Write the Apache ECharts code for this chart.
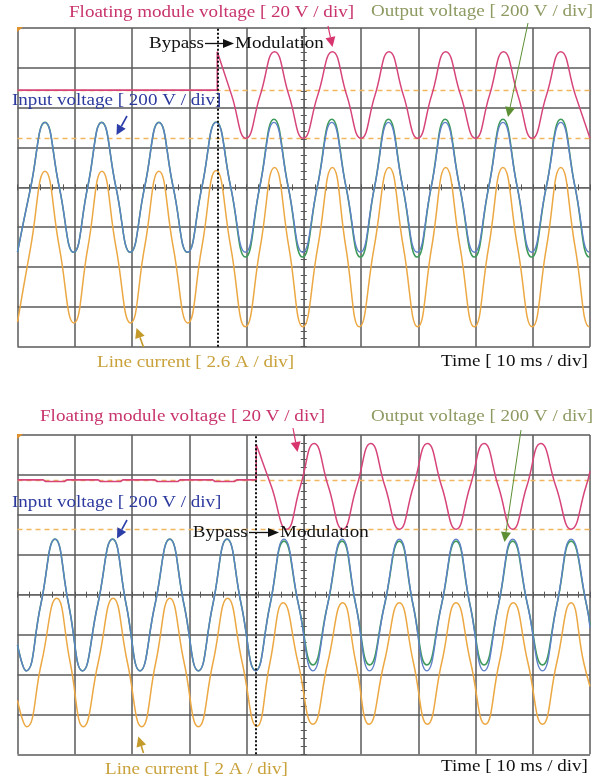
<!DOCTYPE html>
<html><head><meta charset="utf-8">
<script src="https://cdn.jsdelivr.net/npm/echarts@6.0.0/dist/echarts.min.js"></script>
<style>html,body{margin:0;padding:0;background:#fff}#c{width:612px;height:784px}</style>
</head><body><div id="c"></div>
<script>
// ---------- DATA (time in ms, voltage in V, current in A) ----------
// Top record (line current 2.6 A/div)
const topBypass = 34.9;
const topCursorsV = [0, 24.2];
const topInput = [[0,-325],[2.3,0],[4.8,326],[7.3,0],[9.8,-326],[12.25,0],[14.7,326],[17.2,0],[19.7,-326],[22.2,0],[24.7,326],[27.2,0],[29.7,-326],[32.2,0],[34.7,326],[37.25,0],[39.8,-326],[42.3,0],[44.8,326],[47.3,0],[49.8,-326],[52.35,0],[54.9,326],[57.4,0],[59.9,-326],[62.35,0],[64.8,326],[67.3,0],[69.8,-326],[72.25,0],[74.7,326],[77.25,0],[79.8,-326],[82.3,0],[84.8,326],[87.3,0],[89.8,-326],[92.35,0],[94.9,326],[97.4,0],[99.9,-326],[100,-326]];
const topOutput = [[0,-325],[2.3,0],[4.8,326],[7.3,0],[9.8,-326],[12.25,0],[14.7,326],[17.2,0],[19.7,-326],[22.2,0],[24.7,326],[27.2,0],[29.7,-326],[32.2,0],[34.7,328],[37.25,0],[39.8,-350],[42.3,0],[44.8,342],[47.3,0],[49.8,-350],[52.35,0],[54.9,342],[57.4,0],[59.9,-350],[62.35,0],[64.8,342],[67.3,0],[69.8,-350],[72.25,0],[74.7,342],[77.25,0],[79.8,-350],[82.3,0],[84.8,342],[87.3,0],[89.8,-350],[92.35,0],[94.9,342],[97.4,0],[99.9,-350],[100,-350]];
const topCurrent = [[0,-4.9],[2.3,0],[4.8,4.95],[7.3,0],[9.85,-4.95],[12.3,0],[14.75,4.95],[17.2,0],[19.75,-4.95],[22.2,0],[24.7,4.95],[27.2,0],[29.75,-4.95],[32.2,0],[34.7,5.0],[37.25,0],[39.8,-5.2],[42.4,0],[44.9,5.2],[47.4,0],[49.85,-5.2],[52.45,0],[55,5.2],[57.35,0],[59.7,-5.2],[62.3,0],[64.9,5.2],[67.4,0],[69.9,-5.2],[72.35,0],[74.8,5.2],[77.3,0],[79.8,-5.2],[82.3,0],[84.8,5.2],[87.35,0],[89.9,-5.2],[92.4,0],[94.9,5.2],[97.4,0],[99.9,-5.2],[100,-5.2]];
const topFloatBypass = [[0,24.2],[34.9,24.2],[34.9,43.5]];
const topFloatMod = [[34.9,43.5],[37.4,21.7],[39.9,0],[42.4,21.7],[44.9,43.5],[47.4,21.7],[49.9,0],[52.45,21.7],[55,43.5],[57.5,21.7],[60,0],[62.45,21.7],[64.9,43.5],[67.4,21.7],[69.9,0],[72.35,21.7],[74.8,43.5],[77.4,21.7],[80,0],[82.45,21.7],[84.9,43.5],[87.4,21.7],[89.9,0],[92.4,21.7],[94.9,43.5],[97.45,21.7],[100,0]];

// Bottom record (line current 2 A/div)
const botBypass = 41.7;
const botCursorsV = [0, 24.7];
const botInput = [[0,-200],[1.5,-330],[4.05,0],[6.55,330],[8.95,0],[11.35,-330],[14,0],[16.6,330],[19,0],[21.4,-330],[24,0],[26.6,330],[29.1,0],[31.6,-330],[34.1,0],[36.6,330],[39.1,0],[41.6,-330],[44.1,0],[46.55,330],[49.1,0],[51.6,-330],[54.15,0],[56.7,330],[59.1,0],[61.5,-330],[64.1,0],[66.7,330],[69.1,0],[71.5,-330],[74.05,0],[76.6,330],[79.05,0],[81.5,-330],[84,0],[86.5,330],[89.1,0],[91.7,-330],[94.2,0],[96.7,330],[99.4,0],[100,-115]];
const botOutput = [[0,-200],[1.5,-330],[4.05,0],[6.55,330],[8.95,0],[11.35,-330],[14,0],[16.6,330],[19,0],[21.4,-330],[24,0],[26.6,330],[29.1,0],[31.6,-330],[34.1,0],[36.6,330],[39.1,0],[41.6,-328],[44.1,0],[46.55,320],[49.1,0],[51.6,-300],[54.15,0],[56.7,320],[59.1,0],[61.5,-300],[64.1,0],[66.7,320],[69.1,0],[71.5,-300],[74.05,0],[76.6,320],[79.05,0],[81.5,-300],[84,0],[86.5,320],[89.1,0],[91.7,-300],[94.2,0],[96.7,320],[99.4,0],[100,-100]];
const botCurrent = [[0,-1.9],[1.6,-3.22],[4.2,0],[6.85,3.22],[9.2,0],[11.5,-3.22],[14.1,0],[16.7,3.22],[19.2,0],[21.7,-3.22],[24.15,0],[26.6,3.22],[29.1,0],[31.6,-3.22],[34.15,0],[36.7,3.22],[39.25,0],[41.8,-3.2],[44.1,0],[46.4,3.0],[49,0],[51.6,-3.1],[54.2,0],[56.8,3.0],[59.1,0],[61.4,-3.1],[64.05,0],[66.7,3.0],[69.15,0],[71.6,-3.1],[74.1,0],[76.6,3.0],[79.15,0],[81.7,-3.1],[84.15,0],[86.6,3.0],[89.15,0],[91.7,-3.1],[94.2,0],[96.7,3.0],[98.9,0],[100,-1.2]];
const botFloatBypass = [[0,24.7],[4.5,24.7],[4.9,23.9],[8.2,23.9],[8.6,24.7],[14.1,24.7],[14.5,23.9],[18,23.9],[18.4,24.7],[24,24.7],[24.4,23.9],[28,23.9],[28.4,24.7],[34.1,24.7],[34.5,23.9],[37.9,23.9],[38.3,24.7],[41.7,24.7],[41.7,42.5]];
const botFloatMod = [[41.7,42.5],[44.35,21.4],[47,0],[49.4,21.4],[51.8,42.9],[54.3,21.4],[56.8,0],[59.25,21.4],[61.7,42.9],[64.2,21.4],[66.7,0],[69.15,21.4],[71.6,42.9],[74.1,21.4],[76.6,0],[79.05,21.4],[81.5,42.9],[84,21.4],[86.5,0],[88.95,21.4],[91.4,42.9],[94.05,21.4],[96.7,0],[99.3,21.4],[100,29]];

// ---------- SETTINGS (scope channel scale per div and offset in div) ----------
const panels = [
  {grid:{left:17.5, top:28, width:572.5, height:318.7},
   volt:{scale:200, off:0}, cur:{scale:2.6, off:-1.5}, flt:{scale:20, off:1.23},
   input:topInput, output:topOutput, current:topCurrent, fltA:topFloatBypass, fltB:topFloatMod,
   bypass:topBypass, cursors:topCursorsV},
  {grid:{left:17.5, top:435, width:572.5, height:319.3},
   volt:{scale:200, off:-0.26}, cur:{scale:2, off:-1.7}, flt:{scale:20, off:1.64},
   input:botInput, output:botOutput, current:botCurrent, fltA:botFloatBypass, fltB:botFloatMod,
   bypass:botBypass, cursors:botCursorsV}
];

const C = {pink:'#d6447a', blue:'#5d80c8', green:'#3f9b5c', orange:'#eca843', cursor:'#f2b65e', grid:'#5a5a5a'};

const grids=[], xAxis=[], yAxis=[], series=[];
panels.forEach((P,p)=>{
  grids.push(Object.assign({show:false}, P.grid));
  const tick = {color:'#555', width:1};
  xAxis.push({gridIndex:p, type:'value', min:-5, max:5, interval:1, position:'bottom',
    axisLabel:{show:false},
    axisLine:{show:true, onZero:true, onZeroAxisIndex:5*p, lineStyle:{color:'#666', width:1}},
    axisTick:{show:true, inside:true, length:3, lineStyle:tick},
    minorTick:{show:true, splitNumber:5, length:3, lineStyle:tick},
    splitLine:{show:true, lineStyle:{color:C.grid, width:1.5}}});
  xAxis.push({gridIndex:p, type:'value', min:0, max:100, interval:10, position:'top',
    axisLabel:{show:false},
    axisLine:{show:true, onZero:true, onZeroAxisIndex:5*p, lineStyle:{color:'#666', width:1}},
    axisTick:{show:true, inside:true, length:3, lineStyle:tick},
    minorTick:{show:true, splitNumber:5, length:3, lineStyle:tick},
    splitLine:{show:false}});
  yAxis.push({gridIndex:p, type:'value', min:-4, max:4, interval:1, position:'left',
    axisLabel:{show:false},
    axisLine:{show:true, onZero:true, onZeroAxisIndex:2*p, lineStyle:{color:'#666', width:1}},
    axisTick:{show:true, inside:true, length:3, lineStyle:tick},
    minorTick:{show:true, splitNumber:5, length:3, lineStyle:tick},
    splitLine:{show:true, lineStyle:{color:C.grid, width:1.5}}});
  yAxis.push({gridIndex:p, type:'value', min:-4, max:4, interval:1, position:'right',
    axisLabel:{show:false},
    axisLine:{show:true, onZero:true, onZeroAxisIndex:2*p, lineStyle:{color:'#666', width:1}},
    axisTick:{show:true, inside:true, length:3, lineStyle:tick},
    minorTick:{show:true, splitNumber:5, length:3, lineStyle:tick},
    splitLine:{show:false}});
  [P.volt, P.cur, P.flt].forEach(ch=>{
    yAxis.push({gridIndex:p, type:'value', show:false, min:(-4-ch.off)*ch.scale, max:(4-ch.off)*ch.scale, splitLine:{show:false}});
  });
  const xT = 2*p+1, yV = 5*p+2, yC = 5*p+3, yF = 5*p+4;
  const base = {type:'line', xAxisIndex:xT, symbol:'none', silent:true, smooth:0.5};
  series.push(Object.assign({}, base, {yAxisIndex:yC, data:P.current, lineStyle:{color:C.orange, width:1.5}}));
  series.push(Object.assign({}, base, {yAxisIndex:yV, data:P.output, lineStyle:{color:C.green, width:1.6}}));
  series.push(Object.assign({}, base, {yAxisIndex:yV, data:P.input, lineStyle:{color:C.blue, width:1.4},
    markLine:{silent:true, symbol:['none','none'], label:{show:false},
      lineStyle:{color:'#111', type:[2,2], width:2}, data:[{xAxis:P.bypass}]}}));
  series.push(Object.assign({}, base, {yAxisIndex:yF, data:P.fltA, smooth:false, lineStyle:{color:C.pink, width:1.6},
    markLine:{silent:true, z:1, symbol:['none','none'], label:{show:false},
      lineStyle:{color:C.cursor, type:[5,4], width:1.3}, data:P.cursors.map(v=>({yAxis:v}))}}));
  series.push(Object.assign({}, base, {yAxisIndex:yF, data:P.fltB, lineStyle:{color:C.pink, width:1.5}}));
});

// ---------- annotations ----------
const FONT = '"Liberation Serif", "Times New Roman", serif';
function label(text, x, y, color){
  return {type:'text', x:x, y:y, scaleX:1.12, z:20,
    style:{text:text, fill:color, fontSize:17, fontFamily:FONT, align:'left', verticalAlign:'middle'}};
}
function arrow(x1,y1,x2,y2,color,len,hw,lw){
  const a=Math.atan2(y2-y1,x2-x1);
  const bx=x2-len*Math.cos(a), by=y2-len*Math.sin(a);
  const px=-Math.sin(a)*hw, py=Math.cos(a)*hw;
  return [
    {type:'line', z:20, shape:{x1:x1,y1:y1,x2:bx,y2:by}, style:{stroke:color, lineWidth:lw}},
    {type:'polygon', z:20, shape:{points:[[x2,y2],[bx+px,by+py],[bx-px,by-py]]}, style:{fill:color}}
  ];
}
const TXT = {pink:'#c8346c', olive:'#8d9a62', blue:'#2c3a9e', gold:'#c9a23c', black:'#111'};
const graphic = [].concat(
  // top
  [label('Floating module voltage [ 20 V / div]', 69, 12.8, TXT.pink),
   label('Output voltage [ 200 V / div]', 371, 12, TXT.olive),
   label('Bypass', 149, 43.8, TXT.black),
   label('Modulation', 235, 43.8, TXT.black),
   label('Input voltage [ 200 V / div]', 12, 100.5, TXT.blue),
   label('Line current [ 2.6 A / div]', 97, 362.2, TXT.gold),
   label('Time [ 10 ms / div]', 441, 362, TXT.black)],
  arrow(205,43.5,234,43.5,'#111',11,4.5,1.3),
  arrow(328,26,332.5,47,'#d8356f',10,5,1.2),
  arrow(528,23,508,117,'#5d8f34',10,5,1),
  arrow(127,116,116.5,135,'#2c3fa8',10,5,1.6),
  arrow(143.5,347,136.5,328,'#c49a2a',10,5,1.6),
  // bottom
  [label('Floating module voltage [ 20 V / div]', 40, 417, TXT.pink),
   label('Output voltage [ 200 V / div]', 371, 416.2, TXT.olive),
   label('Input voltage [ 200 V / div]', 12, 502.8, TXT.blue),
   label('Bypass', 192.7, 532.5, TXT.black),
   label('Modulation', 280, 532.5, TXT.black),
   label('Line current [ 2 A / div]', 105, 769.5, TXT.gold),
   label('Time [ 10 ms / div]', 441, 767, TXT.black)],
  arrow(249,532.5,279,532.5,'#111',11,4.5,1.3),
  arrow(293,428,297.5,452,'#d8356f',10,5,1.2),
  arrow(521,430,504.5,542,'#5d8f34',10,5,1),
  arrow(127,520,117,538.5,'#2c3fa8',10,5,1.6),
  arrow(143.5,753,138.3,736.5,'#c49a2a',10,5,1.6),
  // trigger markers
  [{type:'polygon', z:20, shape:{points:[[17,27],[23,27],[17,32]]}, style:{fill:'#e0922c'}},
   {type:'polygon', z:20, shape:{points:[[17,434],[23,434],[17,439]]}, style:{fill:'#e0922c'}}]
);

const chart = echarts.init(document.getElementById('c'), null, {renderer:'canvas'});
chart.setOption({animation:false, backgroundColor:'#fff', grid:grids, xAxis:xAxis, yAxis:yAxis, series:series, graphic:graphic});
</script></body></html>
